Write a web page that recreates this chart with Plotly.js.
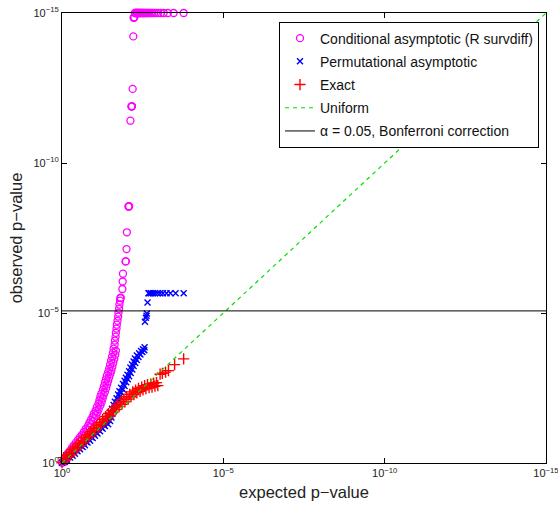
<!DOCTYPE html>
<html><head><meta charset="utf-8">
<script src="https://cdn.plot.ly/plotly-3.0.1.min.js"></script>
<style>html,body{margin:0;padding:0;background:#fff}#chart{width:558px;height:506px}</style>
</head><body><div id="chart"></div>
<script>
// values are -log10(p): 0 -> 10^0, 15 -> 10^-15
const seriesNames = ['Conditional asymptotic (R survdiff)', 'Permutational asymptotic', 'Exact', 'Uniform', 'α = 0.05, Bonferroni correction'];
const tickVals = [0, 5, 10, 15];
const tickLabels = ['10<sup>0</sup>', '10<sup>−5</sup>', '10<sup>−10</sup>', '10<sup>−15</sup>'];

// Conditional asymptotic (R survdiff)
const condX = [0.00,0.05,0.09,0.14,0.19,0.25,0.31,0.37,0.43,0.50,0.56,0.62,0.68,0.74,0.81,0.85,0.90,0.95,0.99,1.04,
  1.08,1.13,1.16,1.19,1.22,1.27,1.30,1.33,1.36,1.39,1.43,1.46,1.49,1.52,1.55,1.58,1.60,1.63,1.64,1.66,
  1.67,1.69,1.70,1.72,1.74,1.75,1.77,1.78,1.80,1.81,1.82,1.87,1.88,1.89,1.97,1.98,2.00,2.01,2.06,2.07,
  2.08,2.12,2.15,2.16,2.17,2.19,2.21,2.22,2.23,2.24,
  2.26,2.28,2.29,2.31,2.32,2.34,2.36,2.37,2.39,2.41,2.43,2.45,2.48,2.50,2.52,2.55,2.58,2.61,2.64,2.67,
  2.71,2.75,2.80,2.85,2.91,2.98,3.06,3.15,3.28,3.46,3.77,
  0.10,0.14,0.19,0.24,0.30,0.36,0.42,0.48,0.55,0.61,0.67,0.73,0.79,0.86,0.91,0.96,1.01,1.05,1.10,1.14,
  1.19,1.23,1.26,1.29,1.33,1.37,1.40,1.43,1.46,1.50,1.53,1.56,1.59,1.62,1.65,1.67];
const condY = [0.01,0.08,0.16,0.24,0.33,0.41,0.51,0.59,0.68,0.78,0.86,0.94,1.04,1.14,1.24,1.34,1.44,1.54,1.64,1.74,
  1.86,1.98,2.09,2.21,2.31,2.44,2.56,2.68,2.79,2.91,3.03,3.14,3.28,3.41,3.54,3.68,3.81,3.94,4.08,4.21,
  4.34,4.48,4.61,4.74,4.88,5.01,5.14,5.28,5.41,5.50,5.51,5.80,6.05,6.31,6.72,6.72,7.13,7.69,8.55,8.55,
  8.56,11.41,11.88,11.89,11.89,12.47,14.22,14.84,14.85,14.86,
  15,15,15,15,15,15,15,15,15,15,15,15,15,15,15,15,15,15,15,15,
  15,15,15,15,15,15,15,15,15,15,15,
  0.05,0.12,0.20,0.28,0.37,0.46,0.55,0.63,0.73,0.82,0.90,0.99,1.09,1.19,1.29,1.39,1.49,1.59,1.69,1.80,
  1.92,2.03,2.15,2.26,2.37,2.50,2.62,2.73,2.85,2.97,3.08,3.21,3.34,3.47,3.61,3.74];

// Permutational asymptotic
const permX = [0.00,0.08,0.15,0.25,0.33,0.40,0.48,0.56,0.64,0.71,0.79,0.87,0.95,1.02,1.10,1.18,1.26,1.33,1.38,1.43,
  1.46,1.50,1.55,1.60,1.64,1.69,1.74,1.78,1.83,1.89,1.94,1.98,2.03,2.08,2.12,2.17,2.22,2.26,2.32,2.39,
  2.45,2.51,2.56,2.57,2.60,2.62,2.63,2.65,
  2.68,2.71,2.76,2.82,2.88,2.96,3.04,3.13,3.24,3.36,3.52,3.77,
  0.04,0.12,0.20,0.29,0.37,0.44,0.52,0.60,0.68,0.75,0.83,0.91,0.99,1.06,1.14,1.22,1.30,
  1.43,1.49,1.53,1.56,1.61,1.66,1.70,1.75,1.80,1.84,1.89,1.94,1.99,2.04,2.08,2.13,2.18,2.22,2.27,2.32,
  2.37,2.43,2.49,2.55];
const permY = [0.01,0.04,0.11,0.18,0.24,0.31,0.39,0.46,0.53,0.59,0.68,0.74,0.83,0.91,0.98,1.06,1.14,1.23,1.34,1.46,
  1.58,1.69,1.81,1.93,2.04,2.16,2.28,2.39,2.51,2.63,2.74,2.84,2.94,3.06,3.18,3.28,3.38,3.48,3.58,3.66,
  3.73,3.79,3.86,4.71,4.84,4.91,4.98,5.35,
  5.66,5.66,5.66,5.66,5.66,5.66,5.66,5.66,5.66,5.66,5.66,5.66,
  0.10,0.15,0.22,0.28,0.35,0.43,0.50,0.57,0.64,0.71,0.79,0.86,0.95,1.02,1.10,1.18,1.27,
  1.29,1.40,1.52,1.64,1.75,1.87,1.99,2.10,2.22,2.34,2.45,2.57,2.69,2.79,2.89,3.00,3.12,3.23,3.33,3.43,
  3.53,3.62,3.70,3.76];

// Exact
const exactX = [0.00,0.09,0.19,0.28,0.37,0.46,0.56,0.65,0.74,0.84,0.93,1.02,1.12,1.21,1.30,1.39,1.49,1.58,1.67,1.77,
  1.86,1.95,2.05,2.14,2.23,2.32,2.42,2.51,2.60,2.70,2.79,2.88,2.97,3.04,3.11,3.21,3.30,3.49,3.77,
  0.05,0.14,0.24,0.33,0.42,0.51,0.61,0.70,0.79,0.89,0.98,1.07,1.17,1.26,1.35,1.44,1.54,1.63,1.72,1.82,
  1.91,2.00,2.10,2.19,2.28,2.37,2.47,2.56,2.65,2.75,2.84,2.93];
const exactY = [0.01,0.11,0.19,0.28,0.38,0.48,0.58,0.68,0.78,0.88,0.98,1.08,1.18,1.28,1.38,1.48,1.58,1.68,1.78,1.88,
  1.96,2.04,2.13,2.21,2.28,2.34,2.39,2.44,2.48,2.51,2.53,2.56,2.58,2.96,2.99,3.03,3.08,3.28,3.47,
  0.18,0.27,0.36,0.45,0.55,0.65,0.75,0.85,0.95,1.05,1.15,1.25,1.35,1.45,1.55,1.65,1.75,1.85,1.95,2.04,
  2.12,2.21,2.29,2.37,2.43,2.49,2.53,2.58,2.61,2.63,2.66,2.68];

const uniformX = [0, 15];
const uniformY = [0, 15];
const bonfX = [0, 15];
const bonfY = [5.07, 5.07];

const FONT = 'Liberation Sans, Arial, Helvetica, sans-serif';

const traces = [
  {x: condX, y: condY, name: seriesNames[0], type: 'scatter', mode: 'markers', legendgroup: 'a', cliponaxis: false,
   marker: {symbol: 'circle-open', size: 7, color: '#ff00ff', line: {width: 1.3, color: '#ff00ff'}}},
  {x: permX, y: permY, name: seriesNames[1], type: 'scatter', mode: 'markers', legendgroup: 'b', cliponaxis: false,
   marker: {symbol: 'x-thin-open', size: 6, color: '#0000ff', line: {width: 1.4, color: '#0000ff'}}},
  {x: exactX, y: exactY, name: seriesNames[2], type: 'scatter', mode: 'markers', legendgroup: 'c', cliponaxis: false,
   marker: {symbol: 'cross-thin-open', size: 8, color: '#ff0000', line: {width: 1.4, color: '#ff0000'}}},
  {x: uniformX, y: uniformY, name: seriesNames[3], type: 'scatter', mode: 'lines', legendgroup: 'd',
   line: {color: '#00e000', width: 1.2, dash: '4px,4px'}},
  {x: bonfX, y: bonfY, name: seriesNames[4], type: 'scatter', mode: 'lines', legendgroup: 'e',
   line: {color: '#000000', width: 1}}
];

const axisBase = {
  range: [0, 15], tickvals: tickVals, ticktext: tickLabels,
  ticks: 'inside', ticklen: 5, tickwidth: 1, tickcolor: '#000',
  showline: true, linecolor: '#000', linewidth: 1, mirror: 'ticks',
  showgrid: false, zeroline: false, ticklabeloverflow: 'allow',
  tickfont: {family: FONT, size: 11, color: '#222'}
};

const layout = {
  width: 558, height: 506,
  margin: {l: 62, r: 12, t: 13, b: 43, pad: 0},
  paper_bgcolor: '#fff', plot_bgcolor: '#fff',
  font: {family: FONT, color: '#000'},
  showlegend: true,
  xaxis: Object.assign({}, axisBase, {title: {text: 'expected p−value', font: {family: FONT, size: 16.5, color: '#222'}, standoff: 8}}),
  yaxis: Object.assign({}, axisBase, {title: {text: 'observed p−value', font: {family: FONT, size: 16.5, color: '#222'}, standoff: 6}}),
  legend: {
    x: 0.9855, xanchor: 'right', y: 0.981, yanchor: 'top',
    bgcolor: '#fff', bordercolor: '#000', borderwidth: 1,
    font: {family: FONT, size: 14, color: '#111'},
    traceorder: 'grouped', tracegroupgap: 2, itemwidth: 30
  }
};

Plotly.newPlot('chart', traces, layout, {displayModeBar: false, staticPlot: true});
</script>
</body></html>
